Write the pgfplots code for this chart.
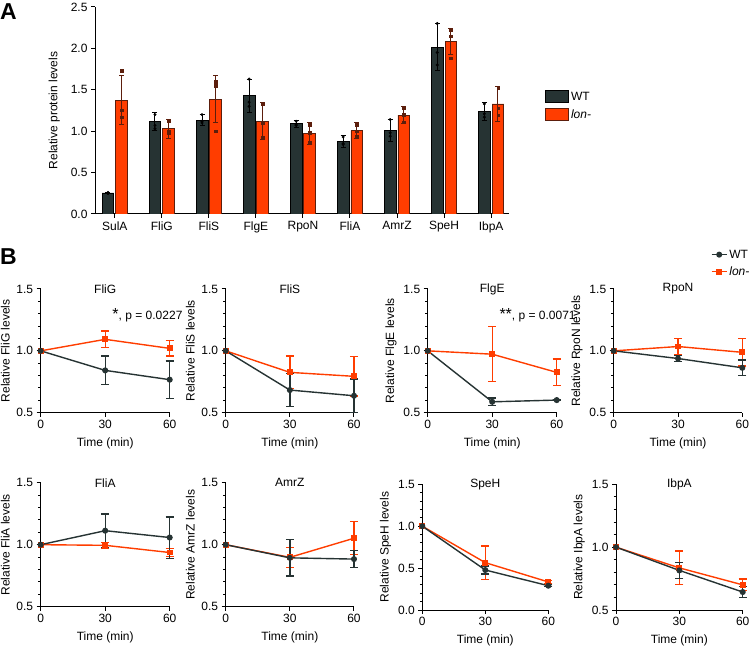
\documentclass[border=0pt]{standalone}
\usepackage{pgfplots}
\usepackage{pgfplotstable}
\pgfplotsset{compat=1.18}
\usepackage{fontspec}
\setmainfont{Liberation Sans}

\definecolor{wtcol}{HTML}{263333}
\definecolor{loncol}{HTML}{FF3D00}
\definecolor{lonedge}{HTML}{5C1E0C}

\newcommand{\fs}{\fontsize{12}{13.5}\selectfont}

\pgfplotsset{
  every axis/.append style={
    /pgf/number format/assume math mode=true,
    font=\fs,
    tick label style={font=\fs},
    label style={font=\fs},
    title style={font=\fs},
    axis line style={line width=1pt, black},
    tick style={line width=1pt, black},
    tick align=outside,
    scale only axis,
    anchor=south west,
  },
  onedec/.style={yticklabel style={/pgf/number format/.cd, fixed, fixed zerofill, precision=1}},
  boxlegend/.style={legend image code/.code={\draw[##1, line width=0.8pt] (0pt,-6pt) rectangle (23pt,6pt);}},
  linelegend/.style={legend image code/.code={\draw[##1, mark repeat=2, mark phase=2] plot coordinates {(0pt,0pt) (7.5pt,0pt) (15pt,0pt)};}},
  tc/.style={
    axis x line*=bottom, axis y line*=left,
    xmin=0, xmax=60, xtick={0,30,60},
    ymin=0.5, ymax=1.5, ytick={0.5,1.0,1.5},
    minor y tick num=4,
    onedec,
    xlabel={Time (min)},
    clip=false,
    every axis title shift=0pt,
    title style={at={(0.5,1)}, anchor=center},
    major tick length=4pt, minor tick length=2.5pt,
    xlabel style={yshift=-2pt},
  },
  wt/.style={color=wtcol, line width=1.4pt, mark=*, mark size=2.3pt,
    error bars/y dir=both, error bars/y explicit,
    error bars/error bar style={line width=1.4pt, color=wtcol},
    error bars/error mark options={rotate=90, color=wtcol, mark size=4pt, line width=1.4pt}},
  lon/.style={color=loncol, line width=1.4pt, mark=square*, mark size=2.2pt,
    error bars/y dir=both, error bars/y explicit,
    error bars/error bar style={line width=1.4pt, color=loncol},
    error bars/error mark options={rotate=90, color=loncol, mark size=4pt, line width=1.4pt}},
}

% Panel A: mean relative protein level and SD per strain
\pgfplotstableread{
x  y     e
0  0.254 0.008
1  1.115 0.105
2  1.135 0.065
3  1.430 0.200
4  1.090 0.045
5  0.872 0.070
6  1.014 0.133
7  2.015 0.280
8  1.236 0.110
}\wtbars
\pgfplotstableread{
x  y     e
0  1.375 0.300
1  1.030 0.115
2  1.385 0.283
3  1.120 0.225
4  0.973 0.135
5  1.006 0.100
6  1.195 0.100
7  2.084 0.160
8  1.329 0.215
}\lonbars
% individual replicates
\pgfplotstableread{
x  a    b    c
0  0.25 0.25 0.26
1  1.20 1.07 1.03
2  1.20 1.12 1.10
3  1.63 1.35 1.30
4  1.12 1.08 1.07
5  0.93 0.85 0.84
6  1.14 0.98 0.94
7  2.30 1.95 1.80
8  1.33 1.21 1.17
}\wtpts
\pgfplotstableread{
x  a    b    c
0  1.73 1.25 1.17
1  1.12 1.00 0.98
2  1.60 1.55 1.00
3  1.33 1.10 0.93
4  1.08 0.98 0.86
5  1.08 1.00 0.94
6  1.28 1.20 1.11
7  2.22 2.15 1.88
8  1.52 1.28 1.19
}\lonpts

\begin{document}
\begin{tikzpicture}[x=1pt,y=1pt]
\useasboundingbox (0,0) rectangle (751,645);

\node[anchor=north west, inner sep=0pt, font=\bfseries\fontsize{23}{23}\selectfont] at (0,642) {A};
\node[anchor=north west, inner sep=0pt, font=\bfseries\fontsize{23}{23}\selectfont] at (0,397) {B};

% ---------------- Panel A ----------------
\begin{axis}[
  at={(95pt,431pt)},
  width=414pt, height=207pt,
  axis x line*=bottom, axis y line*=left,
  xmin=-0.42, xmax=8.38, ymin=0, ymax=2.5,
  xtick={0,1,2,3,4,5,6,7,8},
  xticklabels={SulA,FliG,FliS,FlgE,RpoN,FliA,AmrZ,SpeH,IbpA},
  ytick={0,0.5,1.0,1.5,2.0,2.5},
  onedec,
  major tick length=4pt,
  ylabel={Relative protein levels},
  ylabel style={yshift=4pt},
  legend style={at={(1.087,0.60)}, anchor=north west, draw=none, fill=none,
    font=\fs, row sep=4pt, inner sep=0pt},
  legend cell align=left,
]
\addplot[ybar, bar width=0.25, bar shift=0pt, fill=wtcol, draw=black, line width=0.8pt,
  boxlegend,
  error bars/y dir=both, error bars/y explicit,
  error bars/error bar style={line width=1pt, color=black},
  error bars/error mark options={rotate=90, color=black, mark size=2.5pt, line width=1pt}]
  table[x expr=\thisrow{x}-0.145, y=y, y error=e]{\wtbars};
\addlegendentry{WT}
\addplot[ybar, bar width=0.25, bar shift=0pt, fill=loncol, draw=lonedge, line width=0.8pt,
  boxlegend,
  error bars/y dir=both, error bars/y explicit,
  error bars/error bar style={line width=1pt, color=lonedge},
  error bars/error mark options={rotate=90, color=lonedge, mark size=2.5pt, line width=1pt}]
  table[x expr=\thisrow{x}+0.145, y=y, y error=e]{\lonbars};
\addlegendentry{\textit{lon-}}
\foreach \c in {a,b,c}{
  \addplot[only marks, mark=*, mark size=1.3pt, color=black, forget plot]
    table[x expr=\thisrow{x}-0.145, y=\c]{\wtpts};
  \addplot[only marks, mark=square*, mark size=1.2pt, color=lonedge, forget plot]
    table[x expr=\thisrow{x}+0.145, y=\c]{\lonpts};
}
\end{axis}

% ---------------- Panel B, row 1 ----------------
\begin{axis}[tc, at={(40.7pt,232.3pt)}, width=129pt, height=123.7pt,
  title={FliG}, ylabel={Relative FliG levels}]
\addplot[lon] coordinates {(0,1.0) (30,1.093) +- (0,0.068) (60,1.02) +- (0,0.063)};
\addplot[wt] coordinates {(0,1.0) (30,0.842) +- (0,0.115) (60,0.767) +- (0,0.15)};
\node[anchor=base west, inner sep=0pt, font=\fs] at (rel axis cs:0.555,0.75) {{\fontsize{16}{16}\selectfont *}, p = 0.0227};
\end{axis}

\begin{axis}[tc, at={(225.7pt,232.3pt)}, width=128.3pt, height=123.7pt,
  title={FliS}, ylabel={Relative FliS levels}]
\addplot[lon] coordinates {(0,1.0) (30,0.826) +- (0,0.132) (60,0.794) +- (0,0.16)};
\addplot[wt] coordinates {(0,1.0) (30,0.683) +- (0,0.134) (60,0.637) +- (0,0.137)};
\end{axis}

\begin{axis}[tc, at={(427.7pt,232.3pt)}, width=129pt, height=123.7pt,
  title={FlgE}, ylabel={Relative FlgE levels}]
\addplot[lon] coordinates {(0,1.0) (30,0.973) +- (0,0.222) (60,0.826) +- (0,0.108)};
\addplot[wt] coordinates {(0,1.0) (30,0.588) +- (0,0.031) (60,0.602) +- (0,0.004)};
\node[anchor=base west, inner sep=0pt, font=\fs] at (rel axis cs:0.555,0.75) {{\fontsize{16}{16}\selectfont **}, p = 0.0071};
\end{axis}

\begin{axis}[tc, at={(613.7pt,232.3pt)}, width=128.6pt, height=123.7pt,
  title={RpoN}, ylabel={Relative RpoN levels},
  legend style={at={(0.755,1.335)}, anchor=north west, draw=none, fill=none,
    font=\fs, row sep=3pt, inner sep=0pt},
  legend cell align=left,
  linelegend,
]
\addplot[lon, forget plot] coordinates {(0,1.0) (30,1.035) +- (0,0.063) (60,0.988) +- (0,0.11)};
\addplot[wt] coordinates {(0,1.0) (30,0.938) +- (0,0.023) (60,0.863) +- (0,0.063)};
\addlegendentry{WT}
\addlegendimage{lon}
\addlegendentry{\textit{lon-}}
\end{axis}

% ---------------- Panel B, row 2 ----------------
\begin{axis}[tc, at={(40.7pt,38.3pt)}, width=129pt, height=124pt,
  title={FliA}, ylabel={Relative FliA levels}]
\addplot[lon] coordinates {(0,1.0) (30,0.995) +- (0,0.024) (60,0.937) +- (0,0.034)};
\addplot[wt] coordinates {(0,1.0) (30,1.113) +- (0,0.134) (60,1.058) +- (0,0.167)};
\end{axis}

\begin{axis}[tc, at={(225.7pt,38.3pt)}, width=128.3pt, height=124pt,
  title={AmrZ}, ylabel={Relative AmrZ levels}]
\addplot[lon] coordinates {(0,1.0) (30,0.898) +- (0,0.08) (60,1.052) +- (0,0.133)};
\addplot[wt] coordinates {(0,1.0) (30,0.894) +- (0,0.147) (60,0.884) +- (0,0.068)};
\end{axis}

\begin{axis}[tc, at={(422.3pt,35pt)}, width=126pt, height=125.7pt,
  ymin=0, ymax=1.5, ytick={0,0.5,1.0,1.5},
  title={SpeH}, ylabel={Relative SpeH levels}]
\addplot[lon] coordinates {(0,1.0) (30,0.565) +- (0,0.2) (60,0.335) +- (0,0.018)};
\addplot[wt] coordinates {(0,1.0) (30,0.477) +- (0,0.047) (60,0.29) +- (0,0.012)};
\end{axis}

\begin{axis}[tc, at={(616pt,35pt)}, width=126.7pt, height=125.7pt,
  title={IbpA}, ylabel={Relative IbpA levels}]
\addplot[lon] coordinates {(0,1.0) (30,0.835) +- (0,0.134) (60,0.70) +- (0,0.047)};
\addplot[wt] coordinates {(0,1.0) (30,0.815) +- (0,0.064) (60,0.643) +- (0,0.044)};
\end{axis}
\end{tikzpicture}
\end{document}
